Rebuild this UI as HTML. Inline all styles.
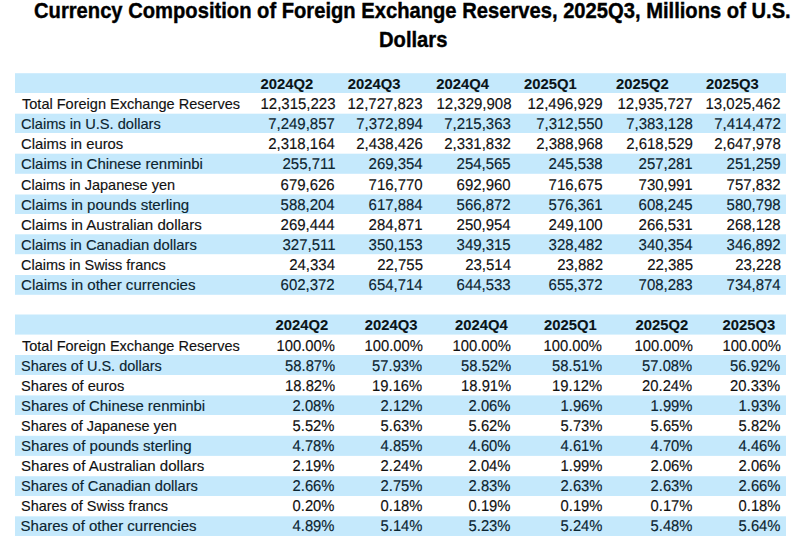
<!DOCTYPE html><html><head><meta charset="utf-8"><title>Currency Composition of Foreign Exchange Reserves</title><style>
html,body{margin:0;padding:0;background:#fff;}
body{width:800px;height:547px;overflow:hidden;position:relative;font-family:"Liberation Sans",sans-serif;color:#111;}
.b{position:absolute;left:15px;width:771px;background:#c5e9fc;}
.t,.h,.ti{position:absolute;white-space:nowrap;line-height:0;height:0;}
.t{font-size:15px;-webkit-text-stroke:0.15px #111;}
.h{font-size:14.8px;font-weight:bold;-webkit-text-stroke:0.1px #0a1418;}
.ti{font-size:22px;font-weight:bold;color:#000;-webkit-text-stroke:0.4px #000;}
.t span,.h span,.ti span{display:inline-block;transform-origin:0 0;}
.r{text-align:right;width:120px;font-size:15.7px;text-rendering:geometricPrecision;}
.q{color:#0b2430;-webkit-text-stroke-color:#0b2430;}
.h{color:#0a1418;}
.r span{transform-origin:100% 0;}
</style></head><body>
<div class="b" style="top:74px;height:19px"></div>
<div class="b" style="top:73px;height:1px;opacity:0.80"></div>
<div class="b" style="top:114px;height:19px"></div>
<div class="b" style="top:113px;height:1px;opacity:0.30"></div>
<div class="b" style="top:154px;height:19px"></div>
<div class="b" style="top:153px;height:1px;opacity:0.30"></div>
<div class="b" style="top:173px;height:1px;opacity:0.80"></div>
<div class="b" style="top:195px;height:19px"></div>
<div class="b" style="top:194px;height:1px;opacity:0.50"></div>
<div class="b" style="top:235px;height:19px"></div>
<div class="b" style="top:234px;height:1px;opacity:0.70"></div>
<div class="b" style="top:254px;height:1px;opacity:0.20"></div>
<div class="b" style="top:275px;height:19px"></div>
<div class="b" style="top:294px;height:1px;opacity:0.80"></div>
<div class="b" style="top:315px;height:19px"></div>
<div class="b" style="top:314px;height:1px;opacity:0.50"></div>
<div class="b" style="top:334px;height:1px;opacity:0.60"></div>
<div class="b" style="top:355px;height:20px"></div>
<div class="b" style="top:396px;height:19px"></div>
<div class="b" style="top:395px;height:1px;opacity:0.60"></div>
<div class="b" style="top:436px;height:19px"></div>
<div class="b" style="top:435px;height:1px;opacity:0.20"></div>
<div class="b" style="top:455px;height:1px;opacity:0.90"></div>
<div class="b" style="top:477px;height:19px"></div>
<div class="b" style="top:476px;height:1px;opacity:0.80"></div>
<div class="b" style="top:517px;height:19px"></div>
<div class="b" style="top:516px;height:1px;opacity:0.70"></div>
<div class="ti" style="left:33.8px;top:11px"><span style="transform:scaleX(0.917)">Currency Composition of Foreign Exchange Reserves, 2025Q3, Millions of U.S.</span></div>
<div class="ti" style="left:379px;top:40px"><span style="transform:scaleX(0.917)">Dollars</span></div>
<div class="h" style="left:260.6px;top:84px"><span style="transform:scaleX(1.0)">2024Q2</span></div>
<div class="h" style="left:347.75px;top:84px"><span style="transform:scaleX(1.0)">2024Q3</span></div>
<div class="h" style="left:436.25px;top:84px"><span style="transform:scaleX(1.0)">2024Q4</span></div>
<div class="h" style="left:524px;top:84px"><span style="transform:scaleX(1.0)">2025Q1</span></div>
<div class="h" style="left:616px;top:84px"><span style="transform:scaleX(1.0)">2025Q2</span></div>
<div class="h" style="left:706px;top:84px"><span style="transform:scaleX(1.0)">2025Q3</span></div>
<div class="t" style="left:21.6px;top:104px"><span style="transform:scaleX(0.9684)">Total Foreign Exchange Reserves</span></div>
<div class="t r" style="left:215.2px;top:105px"><span style="transform:scaleX(0.955)">12,315,223</span></div>
<div class="t r" style="left:302.9px;top:105px"><span style="transform:scaleX(0.955)">12,727,823</span></div>
<div class="t r" style="left:391.2px;top:105px"><span style="transform:scaleX(0.955)">12,329,908</span></div>
<div class="t r" style="left:482.7px;top:105px"><span style="transform:scaleX(0.955)">12,496,929</span></div>
<div class="t r" style="left:573px;top:105px"><span style="transform:scaleX(0.955)">12,935,727</span></div>
<div class="t r" style="left:661px;top:105px"><span style="transform:scaleX(0.955)">13,025,462</span></div>
<div class="t q" style="left:20.63px;top:124px"><span style="transform:scaleX(0.9746)">Claims in U.S. dollars</span></div>
<div class="t q r" style="left:215.2px;top:125px"><span style="transform:scaleX(0.955)">7,249,857</span></div>
<div class="t q r" style="left:302.9px;top:125px"><span style="transform:scaleX(0.955)">7,372,894</span></div>
<div class="t q r" style="left:391.2px;top:125px"><span style="transform:scaleX(0.955)">7,215,363</span></div>
<div class="t q r" style="left:482.7px;top:125px"><span style="transform:scaleX(0.955)">7,312,550</span></div>
<div class="t q r" style="left:573px;top:125px"><span style="transform:scaleX(0.955)">7,383,128</span></div>
<div class="t q r" style="left:661px;top:125px"><span style="transform:scaleX(0.955)">7,414,472</span></div>
<div class="t" style="left:20.61px;top:144px"><span style="transform:scaleX(0.9892)">Claims in euros</span></div>
<div class="t r" style="left:215.2px;top:145px"><span style="transform:scaleX(0.955)">2,318,164</span></div>
<div class="t r" style="left:302.9px;top:145px"><span style="transform:scaleX(0.955)">2,438,426</span></div>
<div class="t r" style="left:391.2px;top:145px"><span style="transform:scaleX(0.955)">2,331,832</span></div>
<div class="t r" style="left:482.7px;top:145px"><span style="transform:scaleX(0.955)">2,388,968</span></div>
<div class="t r" style="left:573px;top:145px"><span style="transform:scaleX(0.955)">2,618,529</span></div>
<div class="t r" style="left:661px;top:145px"><span style="transform:scaleX(0.955)">2,647,978</span></div>
<div class="t q" style="left:20.6px;top:164px"><span style="transform:scaleX(0.9961)">Claims in Chinese renminbi</span></div>
<div class="t q r" style="left:215.2px;top:165px"><span style="transform:scaleX(0.955)">255,711</span></div>
<div class="t q r" style="left:302.9px;top:165px"><span style="transform:scaleX(0.955)">269,354</span></div>
<div class="t q r" style="left:391.2px;top:165px"><span style="transform:scaleX(0.955)">254,565</span></div>
<div class="t q r" style="left:482.7px;top:165px"><span style="transform:scaleX(0.955)">245,538</span></div>
<div class="t q r" style="left:573px;top:165px"><span style="transform:scaleX(0.955)">257,281</span></div>
<div class="t q r" style="left:661px;top:165px"><span style="transform:scaleX(0.955)">251,259</span></div>
<div class="t" style="left:20.63px;top:185px"><span style="transform:scaleX(0.9675)">Claims in Japanese yen</span></div>
<div class="t r" style="left:215.2px;top:186px"><span style="transform:scaleX(0.955)">679,626</span></div>
<div class="t r" style="left:302.9px;top:186px"><span style="transform:scaleX(0.955)">716,770</span></div>
<div class="t r" style="left:391.2px;top:186px"><span style="transform:scaleX(0.955)">692,960</span></div>
<div class="t r" style="left:482.7px;top:186px"><span style="transform:scaleX(0.955)">716,675</span></div>
<div class="t r" style="left:573px;top:186px"><span style="transform:scaleX(0.955)">730,991</span></div>
<div class="t r" style="left:661px;top:186px"><span style="transform:scaleX(0.955)">757,832</span></div>
<div class="t q" style="left:20.6px;top:205px"><span style="transform:scaleX(1.0036)">Claims in pounds sterling</span></div>
<div class="t q r" style="left:215.2px;top:206px"><span style="transform:scaleX(0.955)">588,204</span></div>
<div class="t q r" style="left:302.9px;top:206px"><span style="transform:scaleX(0.955)">617,884</span></div>
<div class="t q r" style="left:391.2px;top:206px"><span style="transform:scaleX(0.955)">566,872</span></div>
<div class="t q r" style="left:482.7px;top:206px"><span style="transform:scaleX(0.955)">576,361</span></div>
<div class="t q r" style="left:573px;top:206px"><span style="transform:scaleX(0.955)">608,245</span></div>
<div class="t q r" style="left:661px;top:206px"><span style="transform:scaleX(0.955)">580,798</span></div>
<div class="t" style="left:20.6px;top:225px"><span style="transform:scaleX(1.0039)">Claims in Australian dollars</span></div>
<div class="t r" style="left:215.2px;top:226px"><span style="transform:scaleX(0.955)">269,444</span></div>
<div class="t r" style="left:302.9px;top:226px"><span style="transform:scaleX(0.955)">284,871</span></div>
<div class="t r" style="left:391.2px;top:226px"><span style="transform:scaleX(0.955)">250,954</span></div>
<div class="t r" style="left:482.7px;top:226px"><span style="transform:scaleX(0.955)">249,100</span></div>
<div class="t r" style="left:573px;top:226px"><span style="transform:scaleX(0.955)">266,531</span></div>
<div class="t r" style="left:661px;top:226px"><span style="transform:scaleX(0.955)">268,128</span></div>
<div class="t q" style="left:20.61px;top:245px"><span style="transform:scaleX(0.9853)">Claims in Canadian dollars</span></div>
<div class="t q r" style="left:215.2px;top:246px"><span style="transform:scaleX(0.955)">327,511</span></div>
<div class="t q r" style="left:302.9px;top:246px"><span style="transform:scaleX(0.955)">350,153</span></div>
<div class="t q r" style="left:391.2px;top:246px"><span style="transform:scaleX(0.955)">349,315</span></div>
<div class="t q r" style="left:482.7px;top:246px"><span style="transform:scaleX(0.955)">328,482</span></div>
<div class="t q r" style="left:573px;top:246px"><span style="transform:scaleX(0.955)">340,354</span></div>
<div class="t q r" style="left:661px;top:246px"><span style="transform:scaleX(0.955)">346,892</span></div>
<div class="t" style="left:20.64px;top:265px"><span style="transform:scaleX(0.9644)">Claims in Swiss francs</span></div>
<div class="t r" style="left:215.2px;top:266px"><span style="transform:scaleX(0.955)">24,334</span></div>
<div class="t r" style="left:302.9px;top:266px"><span style="transform:scaleX(0.955)">22,755</span></div>
<div class="t r" style="left:391.2px;top:266px"><span style="transform:scaleX(0.955)">23,514</span></div>
<div class="t r" style="left:482.7px;top:266px"><span style="transform:scaleX(0.955)">23,882</span></div>
<div class="t r" style="left:573px;top:266px"><span style="transform:scaleX(0.955)">22,385</span></div>
<div class="t r" style="left:661px;top:266px"><span style="transform:scaleX(0.955)">23,228</span></div>
<div class="t q" style="left:20.59px;top:285px"><span style="transform:scaleX(1.0064)">Claims in other currencies</span></div>
<div class="t q r" style="left:215.2px;top:286px"><span style="transform:scaleX(0.955)">602,372</span></div>
<div class="t q r" style="left:302.9px;top:286px"><span style="transform:scaleX(0.955)">654,714</span></div>
<div class="t q r" style="left:391.2px;top:286px"><span style="transform:scaleX(0.955)">644,533</span></div>
<div class="t q r" style="left:482.7px;top:286px"><span style="transform:scaleX(0.955)">655,372</span></div>
<div class="t q r" style="left:573px;top:286px"><span style="transform:scaleX(0.955)">708,283</span></div>
<div class="t q r" style="left:661px;top:286px"><span style="transform:scaleX(0.955)">734,874</span></div>
<div class="h" style="left:275.6px;top:325px"><span style="transform:scaleX(1.0)">2024Q2</span></div>
<div class="h" style="left:364.75px;top:325px"><span style="transform:scaleX(1.0)">2024Q3</span></div>
<div class="h" style="left:455px;top:325px"><span style="transform:scaleX(1.0)">2024Q4</span></div>
<div class="h" style="left:544px;top:325px"><span style="transform:scaleX(1.0)">2025Q1</span></div>
<div class="h" style="left:635.6px;top:325px"><span style="transform:scaleX(1.0)">2025Q2</span></div>
<div class="h" style="left:722.5px;top:325px"><span style="transform:scaleX(1.0)">2025Q3</span></div>
<div class="t" style="left:21.6px;top:346px"><span style="transform:scaleX(0.9671)">Total Foreign Exchange Reserves</span></div>
<div class="t r" style="left:214.8px;top:347px"><span style="transform:scaleX(0.942)">100.00%</span></div>
<div class="t r" style="left:302.5px;top:347px"><span style="transform:scaleX(0.942)">100.00%</span></div>
<div class="t r" style="left:390.8px;top:347px"><span style="transform:scaleX(0.942)">100.00%</span></div>
<div class="t r" style="left:482.3px;top:347px"><span style="transform:scaleX(0.942)">100.00%</span></div>
<div class="t r" style="left:572.6px;top:347px"><span style="transform:scaleX(0.942)">100.00%</span></div>
<div class="t r" style="left:660.6px;top:347px"><span style="transform:scaleX(0.942)">100.00%</span></div>
<div class="t q" style="left:20.64px;top:366px"><span style="transform:scaleX(0.9648)">Shares of U.S. dollars</span></div>
<div class="t q r" style="left:214.8px;top:367px"><span style="transform:scaleX(0.942)">58.87%</span></div>
<div class="t q r" style="left:302.5px;top:367px"><span style="transform:scaleX(0.942)">57.93%</span></div>
<div class="t q r" style="left:390.8px;top:367px"><span style="transform:scaleX(0.942)">58.52%</span></div>
<div class="t q r" style="left:482.3px;top:367px"><span style="transform:scaleX(0.942)">58.51%</span></div>
<div class="t q r" style="left:572.6px;top:367px"><span style="transform:scaleX(0.942)">57.08%</span></div>
<div class="t q r" style="left:660.6px;top:367px"><span style="transform:scaleX(0.942)">56.92%</span></div>
<div class="t" style="left:20.62px;top:386px"><span style="transform:scaleX(0.9752)">Shares of euros</span></div>
<div class="t r" style="left:214.8px;top:387px"><span style="transform:scaleX(0.942)">18.82%</span></div>
<div class="t r" style="left:302.5px;top:387px"><span style="transform:scaleX(0.942)">19.16%</span></div>
<div class="t r" style="left:390.8px;top:387px"><span style="transform:scaleX(0.942)">18.91%</span></div>
<div class="t r" style="left:482.3px;top:387px"><span style="transform:scaleX(0.942)">19.12%</span></div>
<div class="t r" style="left:572.6px;top:387px"><span style="transform:scaleX(0.942)">20.24%</span></div>
<div class="t r" style="left:660.6px;top:387px"><span style="transform:scaleX(0.942)">20.33%</span></div>
<div class="t q" style="left:20.61px;top:406px"><span style="transform:scaleX(0.9945)">Shares of Chinese renminbi</span></div>
<div class="t q r" style="left:214.8px;top:407px"><span style="transform:scaleX(0.942)">2.08%</span></div>
<div class="t q r" style="left:302.5px;top:407px"><span style="transform:scaleX(0.942)">2.12%</span></div>
<div class="t q r" style="left:390.8px;top:407px"><span style="transform:scaleX(0.942)">2.06%</span></div>
<div class="t q r" style="left:482.3px;top:407px"><span style="transform:scaleX(0.942)">1.96%</span></div>
<div class="t q r" style="left:572.6px;top:407px"><span style="transform:scaleX(0.942)">1.99%</span></div>
<div class="t q r" style="left:660.6px;top:407px"><span style="transform:scaleX(0.942)">1.93%</span></div>
<div class="t" style="left:20.64px;top:426px"><span style="transform:scaleX(0.9625)">Shares of Japanese yen</span></div>
<div class="t r" style="left:214.8px;top:427px"><span style="transform:scaleX(0.942)">5.52%</span></div>
<div class="t r" style="left:302.5px;top:427px"><span style="transform:scaleX(0.942)">5.63%</span></div>
<div class="t r" style="left:390.8px;top:427px"><span style="transform:scaleX(0.942)">5.62%</span></div>
<div class="t r" style="left:482.3px;top:427px"><span style="transform:scaleX(0.942)">5.73%</span></div>
<div class="t r" style="left:572.6px;top:427px"><span style="transform:scaleX(0.942)">5.65%</span></div>
<div class="t r" style="left:660.6px;top:427px"><span style="transform:scaleX(0.942)">5.82%</span></div>
<div class="t q" style="left:20.6px;top:446px"><span style="transform:scaleX(1.0024)">Shares of pounds sterling</span></div>
<div class="t q r" style="left:214.8px;top:447px"><span style="transform:scaleX(0.942)">4.78%</span></div>
<div class="t q r" style="left:302.5px;top:447px"><span style="transform:scaleX(0.942)">4.85%</span></div>
<div class="t q r" style="left:390.8px;top:447px"><span style="transform:scaleX(0.942)">4.60%</span></div>
<div class="t q r" style="left:482.3px;top:447px"><span style="transform:scaleX(0.942)">4.61%</span></div>
<div class="t q r" style="left:572.6px;top:447px"><span style="transform:scaleX(0.942)">4.70%</span></div>
<div class="t q r" style="left:660.6px;top:447px"><span style="transform:scaleX(0.942)">4.46%</span></div>
<div class="t" style="left:20.6px;top:466px"><span style="transform:scaleX(1.0033)">Shares of Australian dollars</span></div>
<div class="t r" style="left:214.8px;top:467px"><span style="transform:scaleX(0.942)">2.19%</span></div>
<div class="t r" style="left:302.5px;top:467px"><span style="transform:scaleX(0.942)">2.24%</span></div>
<div class="t r" style="left:390.8px;top:467px"><span style="transform:scaleX(0.942)">2.04%</span></div>
<div class="t r" style="left:482.3px;top:467px"><span style="transform:scaleX(0.942)">1.99%</span></div>
<div class="t r" style="left:572.6px;top:467px"><span style="transform:scaleX(0.942)">2.06%</span></div>
<div class="t r" style="left:660.6px;top:467px"><span style="transform:scaleX(0.942)">2.06%</span></div>
<div class="t q" style="left:20.62px;top:486px"><span style="transform:scaleX(0.9778)">Shares of Canadian dollars</span></div>
<div class="t q r" style="left:214.8px;top:487px"><span style="transform:scaleX(0.942)">2.66%</span></div>
<div class="t q r" style="left:302.5px;top:487px"><span style="transform:scaleX(0.942)">2.75%</span></div>
<div class="t q r" style="left:390.8px;top:487px"><span style="transform:scaleX(0.942)">2.83%</span></div>
<div class="t q r" style="left:482.3px;top:487px"><span style="transform:scaleX(0.942)">2.63%</span></div>
<div class="t q r" style="left:572.6px;top:487px"><span style="transform:scaleX(0.942)">2.63%</span></div>
<div class="t q r" style="left:660.6px;top:487px"><span style="transform:scaleX(0.942)">2.66%</span></div>
<div class="t" style="left:20.64px;top:506px"><span style="transform:scaleX(0.9629)">Shares of Swiss francs</span></div>
<div class="t r" style="left:214.8px;top:507px"><span style="transform:scaleX(0.942)">0.20%</span></div>
<div class="t r" style="left:302.5px;top:507px"><span style="transform:scaleX(0.942)">0.18%</span></div>
<div class="t r" style="left:390.8px;top:507px"><span style="transform:scaleX(0.942)">0.19%</span></div>
<div class="t r" style="left:482.3px;top:507px"><span style="transform:scaleX(0.942)">0.19%</span></div>
<div class="t r" style="left:572.6px;top:507px"><span style="transform:scaleX(0.942)">0.17%</span></div>
<div class="t r" style="left:660.6px;top:507px"><span style="transform:scaleX(0.942)">0.18%</span></div>
<div class="t q" style="left:20.6px;top:526px"><span style="transform:scaleX(1.0000)">Shares of other currencies</span></div>
<div class="t q r" style="left:214.8px;top:527px"><span style="transform:scaleX(0.942)">4.89%</span></div>
<div class="t q r" style="left:302.5px;top:527px"><span style="transform:scaleX(0.942)">5.14%</span></div>
<div class="t q r" style="left:390.8px;top:527px"><span style="transform:scaleX(0.942)">5.23%</span></div>
<div class="t q r" style="left:482.3px;top:527px"><span style="transform:scaleX(0.942)">5.24%</span></div>
<div class="t q r" style="left:572.6px;top:527px"><span style="transform:scaleX(0.942)">5.48%</span></div>
<div class="t q r" style="left:660.6px;top:527px"><span style="transform:scaleX(0.942)">5.64%</span></div>
</body></html>
